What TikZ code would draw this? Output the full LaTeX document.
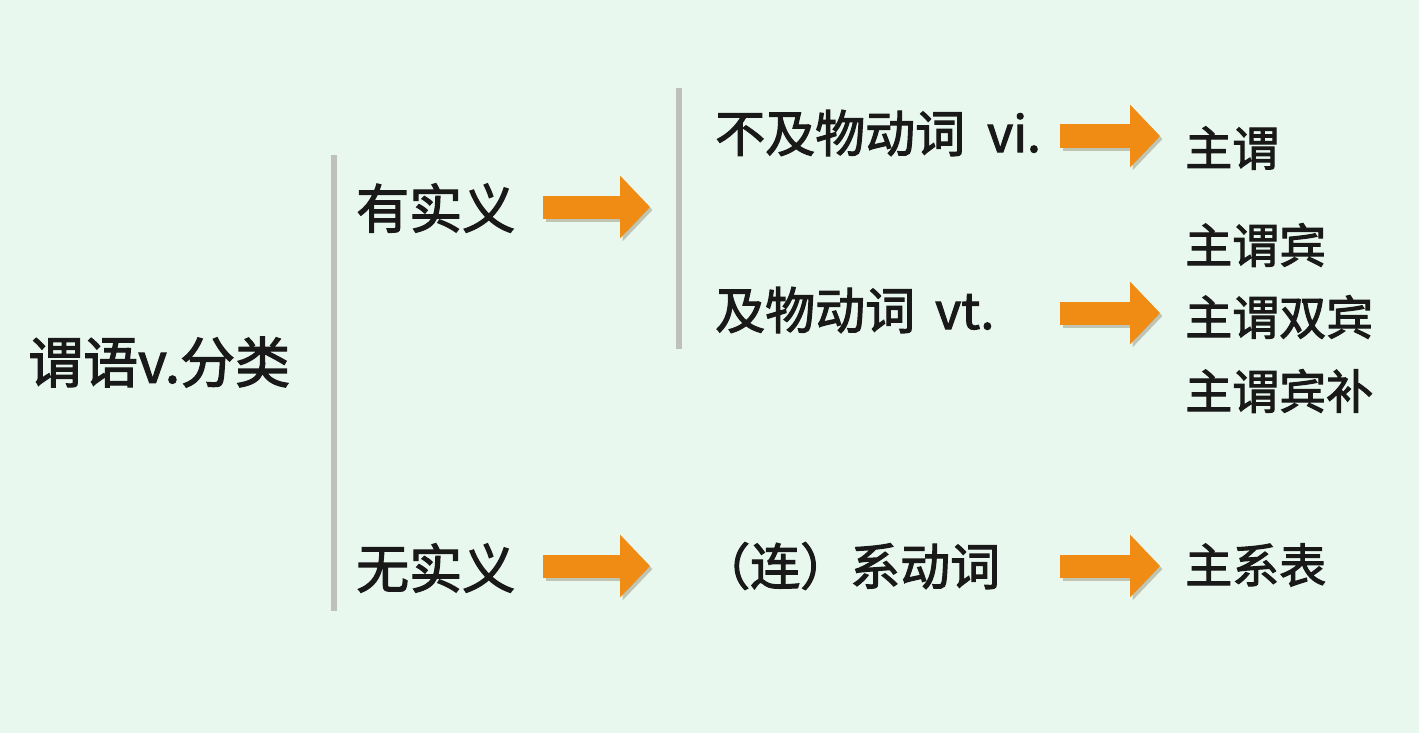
\documentclass[tikz,border=0pt]{standalone}
\usepackage{fontspec}
\newfontfamily\cjk{Noto Sans CJK SC}[FakeBold=2.2]
\usetikzlibrary{arrows.meta}
\definecolor{bgc}{RGB}{232,248,238}
\definecolor{barc}{RGB}{190,192,190}
\definecolor{arrc}{RGB}{240,140,20}
\definecolor{shc}{RGB}{120,100,70}
\tikzset{
  lbl/.style={anchor=west,inner sep=0pt,text=black!90},
  huge/.style={font=\cjk\fontsize{55bp}{58bp}\selectfont},
  big/.style={font=\cjk\fontsize{53bp}{56bp}\selectfont},
  mid/.style={font=\cjk\fontsize{50bp}{54bp}\selectfont},
  sml/.style={font=\cjk\fontsize{47bp}{50bp}\selectfont},
  bar/.style={draw=barc,line width=6bp},
  oarrow/.style={draw=arrc,line width=23bp,-{Triangle[width=61bp,length=30bp]}},
  sharrow/.style={draw=shc,opacity=0.35,line width=23bp,-{Triangle[width=61bp,length=30bp]}},
}
\begin{document}
\begin{tikzpicture}[x=1bp,y=-1bp]
\fill[bgc] (0,0) rectangle (1419,733);
\useasboundingbox (0,0) rectangle (1419,733);
% vertical bars
\coordinate (b1t) at (334,155); \coordinate (b1b) at (334,611);
\coordinate (b2t) at (679,88);  \coordinate (b2b) at (679,349);
\draw[bar] (b1t) -- (b1b);
\draw[bar] (b2t) -- (b2b);
% labels
\node[lbl,huge] (root) at (28,362) {谓语v.分类};
\node[lbl,big] (you) at (356,208) {有实义};
\node[lbl,big] (wu) at (356,568) {无实义};
\node[lbl,mid] (vi) at (715,133) {不及物动词\hspace{22bp}vi.};
\node[lbl,mid] (vt) at (715,310) {及物动词\hspace{20bp}vt.};
\node[lbl,mid] (xi) at (700,566) {（连）系动词};
\node[lbl,sml] (zw) at (1185,148) {主谓};
\node[lbl,sml] (zwb) at (1185,245) {主谓宾};
\node[lbl,sml] (zwsb) at (1185,317) {主谓双宾};
\node[lbl,sml] (zwbb) at (1185,391) {主谓宾补};
\node[lbl,sml] (zxb) at (1185,565) {主系表};
% arrow end points
\coordinate (a1s) at (543,207); \coordinate (a1e) at (650,207);
\coordinate (a2s) at (543,566); \coordinate (a2e) at (650,566);
\coordinate (a3s) at (1060,136); \coordinate (a3e) at (1160,136);
\coordinate (a4s) at (1060,313); \coordinate (a4e) at (1160,313);
\coordinate (a5s) at (1060,566); \coordinate (a5e) at (1160,566);
\foreach \s/\e in {a1s/a1e,a2s/a2e,a3s/a3e,a4s/a4e,a5s/a5e}{
  \draw[sharrow,transform canvas={shift={(2.5bp,-3bp)}}] (\s) -- (\e);
  \draw[oarrow] (\s) -- (\e);
}
\end{tikzpicture}
\end{document}
